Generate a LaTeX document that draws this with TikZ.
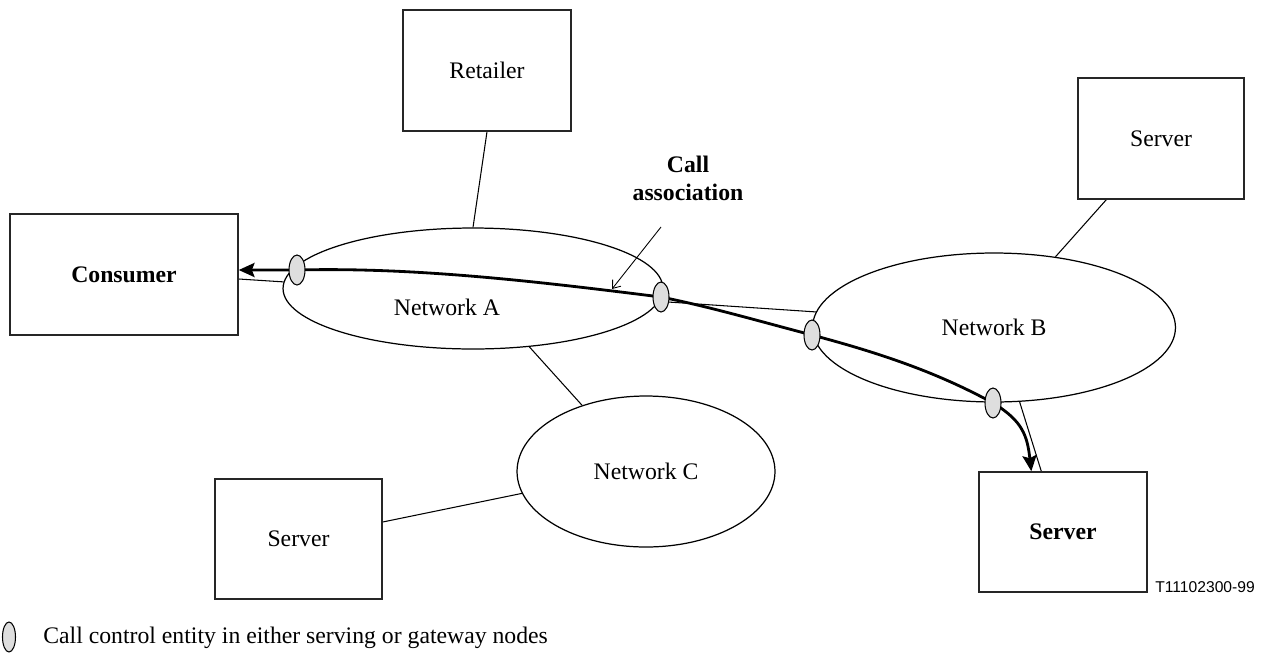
\documentclass[tikz,border=0pt]{standalone}
\usepackage{fontspec}
\setmainfont{Liberation Serif}
\newfontfamily\arialfont{Liberation Sans}
\usetikzlibrary{shapes.geometric,arrows.meta,calc}
\pgfdeclarelayer{bg}
\pgfsetlayers{bg,main}
\begin{document}
\begin{tikzpicture}[x=0.02cm,y=-0.02cm,
  txt/.style={font=\fontsize{13.5}{16}\selectfont},
  btxt/.style={font=\fontsize{13.5}{16}\selectfont\bfseries},
  box/.style={draw=black!85,line width=0.8pt,rectangle,inner sep=0pt},
  net/.style={draw,ellipse,line width=0.7pt,inner sep=0pt,txt},
  cce/.style={draw,ellipse,fill=black!13,line width=0.6pt,minimum width=0.32cm,minimum height=0.6cm,inner sep=0pt},
  conn/.style={line width=0.6pt},
  call/.style={line width=1.6pt,-{Stealth[length=9pt,width=8pt,inset=1.5pt]}},
  pointer/.style={line width=0.5pt,-{Straight Barb[length=4pt,width=6pt]}}]
\useasboundingbox (0,0) rectangle (1267,653);

% boxes
\node[box,txt,minimum width=3.36cm,minimum height=2.42cm] (ret) at (487,70.5) {Retailer};
\node[box,btxt,minimum width=4.56cm,minimum height=2.42cm] (cons) at (124,274.5) {Consumer};
\node[box,txt,minimum width=3.32cm,minimum height=2.42cm] (srvT) at (1161,138.5) {Server};
\node[box,txt,minimum width=3.34cm,minimum height=2.4cm] (srvL) at (298.5,539) {Server};
\node[box,btxt,minimum width=3.36cm,minimum height=2.4cm] (srvR) at (1063,532) {Server};

% networks
\node[net,minimum width=7.6cm,minimum height=2.42cm] (netA) at (473,288.5) {};
\node[txt] (netAlbl) at (447,307) {Network A};
\node[net,minimum width=7.26cm,minimum height=2.98cm] (netB) at (994,327.5) {Network B};
\node[net,minimum width=5.16cm,minimum height=3.02cm] (netC) at (646,471.5) {Network C};

% call control entities
\node[cce] (c1) at (297,270) {};
\node[cce] (c2) at (661,297) {};
\node[cce] (c3) at (812,335) {};
\node[cce] (c4) at (993,403) {};

% label
\node[btxt,align=center,inner sep=0pt] (calllbl) at (688,178) {Call\\association};
\coordinate (caS) at (661,227);
\coordinate (caT) at (612,289);

\begin{pgfonlayer}{bg}
  \draw[conn] (ret.south) -- (netA.north);
  \draw[conn] ($(cons.east)+(0,4.5)$) -- (netA.178);
  \draw[conn] ($(c2.center)+(7,5)$) -- (netB.175.7);
  \draw[conn] (netA.-46.7) -- (netC.134);
  \draw[conn] ($(srvL.east)+(0,-17)$) -- (netC.190);
  \draw[conn] (netB.49) -- ($(srvT.south west)+(29,0)$);
  \draw[conn] (netB.-71.9) -- ($(srvR.north west)+(63,0)$);
  \draw[call] (c4.center) .. controls +(-60,-33) and +(60,16) .. (c3.center)
     .. controls +(-50,-13) and +(50,10) .. (c2.center)
     .. controls +(-120,-15) and +(120,-3) .. (c1.center) -- (cons.east |- c1.center);
  \draw[call] (c4.center) .. controls +(30,18) and +(-4,-35) .. ($(srvR.north west)+(53,0)$);
\end{pgfonlayer}
\draw[pointer] (caS) -- (caT);

% figure id
\node[anchor=west,inner sep=0pt,font=\arialfont\fontsize{8.9}{10}\selectfont] (figid) at (1155,587) {T11102300-99};

% legend
\node[cce,minimum width=0.26cm] (legc) at (9,637) {};
\node[txt,anchor=west,inner sep=0pt] (legt) at (43,638) {Call control entity in either serving or gateway nodes};
\end{tikzpicture}
\end{document}
